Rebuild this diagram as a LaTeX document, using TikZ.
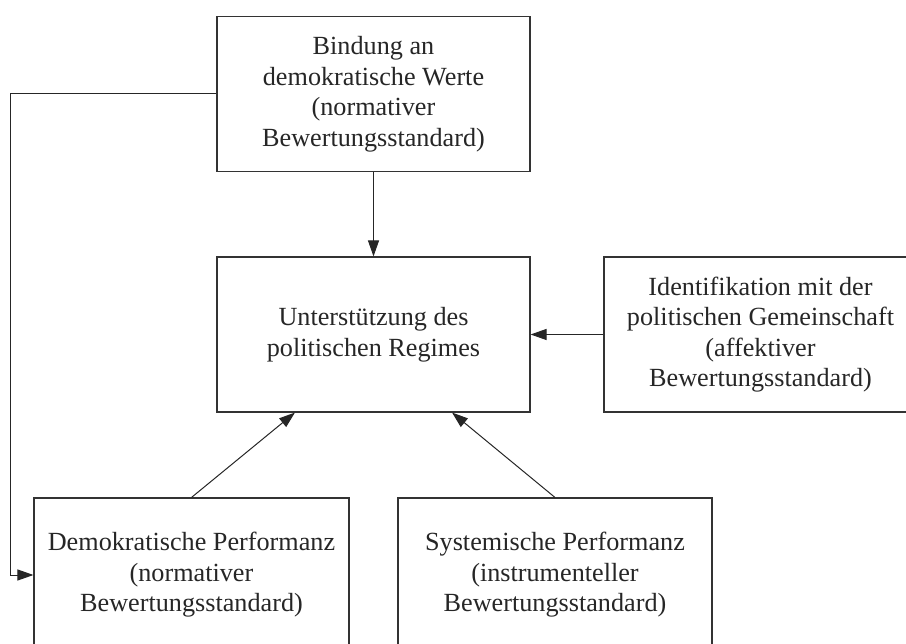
\documentclass[tikz,border=0pt]{standalone}
\usepackage{fontspec}
\setmainfont{Liberation Serif}
\usetikzlibrary{arrows.meta,calc}
\begin{document}
\begin{tikzpicture}[x=1pt,y=-1pt,
  box/.style={draw=black!80, line width=1.1pt, rectangle, minimum width=313pt, minimum height=155pt,
    align=center, inner sep=0pt, text=black!85, font=\fontsize{26.2}{30.5}\selectfont},
  conn/.style={draw=black!85, line width=1pt, -{Triangle[length=16pt,width=11pt]}}]
\useasboundingbox (0,0) rectangle (906,644);
\clip (0,0) rectangle (906,644);
\node[box] (top) at (373.5,94) {Bindung an\\demokratische Werte\\(normativer\\Bewertungsstandard)};
\node[box] (mid) at (373.5,334.5) {Unterstützung des\\politischen Regimes};
\node[box] (right) at (760.5,334.5) {Identifikation mit der\\politischen Gemeinschaft\\(affektiver\\Bewertungsstandard)};
\node[box, minimum width=315pt, minimum height=154pt] (bl) at (191.5,575) {Demokratische Performanz\\(normativer\\Bewertungsstandard)};
\node[box, minimum width=314pt, minimum height=154pt] (br) at (555,575) {Systemische Performanz\\(instrumenteller\\Bewertungsstandard)};
\coordinate (c1) at (10,94);
\coordinate (c2) at (10,575);
\draw[conn] (top.south) -- (mid.north);
\draw[conn] (right.west) -- (mid.east);
\draw[conn] (bl.north) -- ($(mid.south west)!0.25!(mid.south east)$);
\draw[conn] (br.north) -- ($(mid.south west)!0.75!(mid.south east)$);
\draw[conn] (top.west) -- (c1) -- (c2) -- (bl.west);
\end{tikzpicture}
\end{document}
